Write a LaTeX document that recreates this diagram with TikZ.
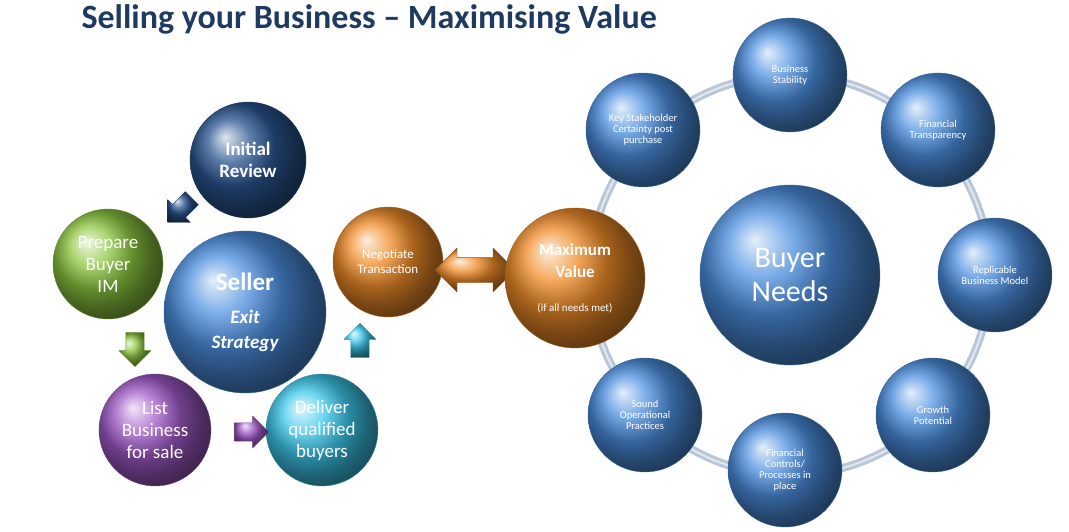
\documentclass[tikz,border=0pt]{standalone}
\usepackage{fontspec}
\setmainfont{Carlito}
\usetikzlibrary{shapes.arrows, positioning}
\definecolor{navy}{HTML}{1F3A60}
\definecolor{ringgray}{HTML}{B8C6D8}
\definecolor{ballblue}{HTML}{4C8FE0}
\definecolor{ballnavy}{HTML}{2A5590}
\definecolor{ballgreen}{HTML}{8CC63F}
\definecolor{ballviolet}{HTML}{A05AC8}
\definecolor{ballcyan}{HTML}{3CC8EC}
\definecolor{ballorange}{HTML}{F08C28}
\tikzset{
  ball/.style={circle, ball color=#1, text=white, inner sep=0pt, align=center, draw=#1!70!black, thin},
  small/.style={ball=ballblue, minimum size=114pt, font=\fontsize{10.5}{11}\selectfont},
  bigtxt/.style={font=\fontsize{19}{22}\selectfont},
  pointer/.style={single arrow, ball color=#1, draw=#1!70!black, minimum height=34pt, minimum width=32pt, single arrow head extend=6pt, inner sep=8pt}
}
\begin{document}
\begin{tikzpicture}[x=1pt, y=-1pt]
\useasboundingbox (0,0) rectangle (1069,532);
\node[anchor=west, text=navy, font=\bfseries\fontsize{34}{38}\selectfont] (title) at (78,19) {Selling your Business -- Maximising Value};

% left cycle
\node[ball=ballnavy, minimum size=116pt, font=\bfseries\fontsize{19}{22}\selectfont] (init) at (248,160) {Initial\\Review};
\node[ball=ballgreen, minimum size=110pt, bigtxt] (prep) at (108,264) {Prepare\\Buyer\\IM};
\node[ball=ballblue, minimum size=162pt, font=\bfseries\itshape\fontsize{19}{25}\selectfont] (seller) at (245,312) {{\upshape\fontsize{25}{30}\selectfont Seller}\\[8pt]Exit\\Strategy};
\node[ball=ballviolet, minimum size=112pt, bigtxt] (list) at (155,430) {List\\Business\\for sale};
\node[ball=ballcyan, minimum size=112pt, bigtxt] (deliver) at (322,430) {Deliver\\qualified\\buyers};
\node[ball=ballorange, minimum size=110pt, font=\fontsize{13}{15}\selectfont] (nego) at (388,262) {Negotiate\\Transaction};

\node[pointer=ballnavy, rotate=-135] (a1) at (183,207) {};
\node[pointer=ballgreen, rotate=-90] (a2) at (135,345) {};
\node[pointer=ballviolet] (a3) at (247,432) {};
\node[pointer=ballcyan, rotate=90] (a4) at (360,345) {};
\node[double arrow, ball color=ballorange, draw=ballorange!60!black, minimum height=80pt, minimum width=44pt, double arrow head extend=8pt, inner sep=10pt] (a5) at (475,270) {};

% buyer needs ring
\coordinate (hub) at (790,275);
\draw[ringgray, line width=8pt] (hub) circle (200pt);
\draw[white!60!ringgray, line width=2pt] (hub) circle (200pt);
\node[ball=ballblue, minimum size=180pt, font=\fontsize{30}{34}\selectfont] (needs) at (hub) {Buyer\\Needs};
\node[ball=ballorange, minimum size=140pt, font=\bfseries\fontsize{17}{22}\selectfont] (maxv) at (575,278) {Maximum\\Value\\[12pt]{\mdseries\fontsize{11}{13}\selectfont (if all needs met)}};
\node[small] (stab) at (790,75) {Business\\Stability};
\node[small] (transp) at (938,130) {Financial\\Transparency};
\node[small] (repl) at (995,275) {Replicable\\Business Model};
\node[small] (growth) at (933,415) {Growth\\Potential};
\node[small] (ctrl) at (785,470) {Financial\\Controls/\\Processes in\\place};
\node[small] (sound) at (645,415) {Sound\\Operational\\Practices};
\node[small] (key) at (643,130) {Key Stakeholder\\Certainty post\\purchase};
\end{tikzpicture}
\end{document}
